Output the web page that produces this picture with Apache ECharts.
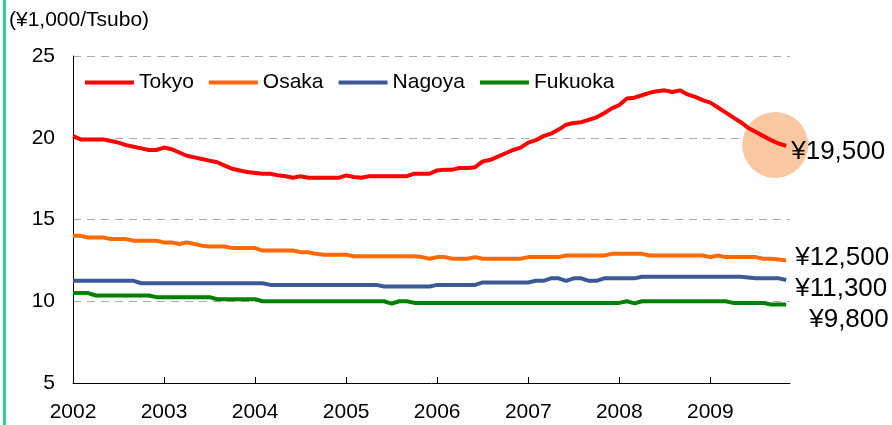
<!DOCTYPE html>
<html>
<head>
<meta charset="utf-8">
<script src="https://cdn.jsdelivr.net/npm/echarts@6/dist/echarts.min.js"></script>
<style>
  html, body { margin: 0; padding: 0; background: #ffffff; }
  #chart { width: 892px; height: 425px; }
</style>
</head>
<body>
<div id="chart"></div>
<script>
// Monthly average office rent, Jan 2002 – Nov 2009 (¥1,000 per tsubo)
const yearLabels = ['2002', '2003', '2004', '2005', '2006', '2007', '2008', '2009'];
const seriesNames = ['Tokyo', 'Osaka', 'Nagoya', 'Fukuoka'];

const tokyo = [
  20.1, 19.9, 19.9, 19.9, 19.9, 19.8, 19.7, 19.55, 19.45, 19.35, 19.25, 19.25,
  19.4, 19.3, 19.1, 18.9, 18.8, 18.7, 18.6, 18.5, 18.3, 18.1, 18.0, 17.9,
  17.85, 17.8, 17.8, 17.7, 17.65, 17.55, 17.65, 17.55, 17.55, 17.55, 17.55, 17.55,
  17.7, 17.6, 17.55, 17.65, 17.65, 17.65, 17.65, 17.65, 17.65, 17.8, 17.8, 17.8,
  18.0, 18.05, 18.05, 18.15, 18.15, 18.2, 18.55, 18.65, 18.85, 19.05, 19.25, 19.4,
  19.7, 19.85, 20.1, 20.25, 20.5, 20.8, 20.9, 20.95, 21.1, 21.25, 21.5, 21.8,
  22.0, 22.4, 22.45, 22.6, 22.75, 22.85, 22.9, 22.8, 22.9, 22.65, 22.5, 22.3,
  22.15, 21.85, 21.55, 21.25, 20.95, 20.6, 20.35, 20.1, 19.85, 19.65, 19.5
];

const osaka = [
  14.0, 14.0, 13.9, 13.9, 13.9, 13.8, 13.8, 13.8, 13.7, 13.7, 13.7, 13.7,
  13.6, 13.6, 13.5, 13.6, 13.5, 13.4, 13.35, 13.35, 13.35, 13.25, 13.25, 13.25,
  13.25, 13.1, 13.1, 13.1, 13.1, 13.1, 13.0, 13.0, 12.9, 12.85, 12.85, 12.85,
  12.85, 12.75, 12.75, 12.75, 12.75, 12.75, 12.75, 12.75, 12.75, 12.75, 12.7, 12.6,
  12.7, 12.7, 12.6, 12.6, 12.6, 12.7, 12.6, 12.6, 12.6, 12.6, 12.6, 12.6,
  12.7, 12.7, 12.7, 12.7, 12.7, 12.8, 12.8, 12.8, 12.8, 12.8, 12.8, 12.9,
  12.9, 12.9, 12.9, 12.9, 12.8, 12.8, 12.8, 12.8, 12.8, 12.8, 12.8, 12.8,
  12.7, 12.8, 12.7, 12.7, 12.7, 12.7, 12.7, 12.6, 12.6, 12.55, 12.5
];

const nagoya = [
  11.25, 11.25, 11.25, 11.25, 11.25, 11.25, 11.25, 11.25, 11.25, 11.1, 11.1, 11.1,
  11.1, 11.1, 11.1, 11.1, 11.1, 11.1, 11.1, 11.1, 11.1, 11.1, 11.1, 11.1,
  11.1, 11.1, 11.0, 11.0, 11.0, 11.0, 11.0, 11.0, 11.0, 11.0, 11.0, 11.0,
  11.0, 11.0, 11.0, 11.0, 11.0, 10.9, 10.9, 10.9, 10.9, 10.9, 10.9, 10.9,
  11.0, 11.0, 11.0, 11.0, 11.0, 11.0, 11.15, 11.15, 11.15, 11.15, 11.15, 11.15,
  11.15, 11.25, 11.25, 11.4, 11.4, 11.25, 11.4, 11.4, 11.25, 11.25, 11.4, 11.4,
  11.4, 11.4, 11.4, 11.5, 11.5, 11.5, 11.5, 11.5, 11.5, 11.5, 11.5, 11.5,
  11.5, 11.5, 11.5, 11.5, 11.5, 11.45, 11.4, 11.4, 11.4, 11.4, 11.3
];

const fukuoka = [
  10.5, 10.5, 10.5, 10.35, 10.35, 10.35, 10.35, 10.35, 10.35, 10.35, 10.35, 10.25,
  10.25, 10.25, 10.25, 10.25, 10.25, 10.25, 10.25, 10.12, 10.12, 10.12, 10.12, 10.12,
  10.12, 10.0, 10.0, 10.0, 10.0, 10.0, 10.0, 10.0, 10.0, 10.0, 10.0, 10.0,
  10.0, 10.0, 10.0, 10.0, 10.0, 10.0, 9.85, 10.0, 10.0, 9.9, 9.9, 9.9,
  9.9, 9.9, 9.9, 9.9, 9.9, 9.9, 9.9, 9.9, 9.9, 9.9, 9.9, 9.9,
  9.9, 9.9, 9.9, 9.9, 9.9, 9.9, 9.9, 9.9, 9.9, 9.9, 9.9, 9.9,
  9.9, 10.0, 9.87, 10.0, 10.0, 10.0, 10.0, 10.0, 10.0, 10.0, 10.0, 10.0,
  10.0, 10.0, 10.0, 9.9, 9.9, 9.9, 9.9, 9.9, 9.8, 9.8, 9.8
];

const colors = ['#ff0000', '#ff6a00', '#3a5a96', '#008000'];
const FONT = '"Liberation Sans", Arial, sans-serif';

const toPoints = arr => arr.map((v, i) => [i, v]);
const yen = v => '¥' + Math.round(v * 1000).toLocaleString('en-US');

// label offsets keep the four end values apart on the right edge
const endOffsets = [[0, 6], [4, -3], [4, 9], [18, 15]];
const allSeries = [tokyo, osaka, nagoya, fukuoka];
const lastIdx = tokyo.length - 1;

const lineSeries = allSeries.map((arr, k) => ({
  name: seriesNames[k],
  type: 'line',
  data: toPoints(arr),
  showSymbol: false,
  symbol: 'none',
  z: 10 - k,
  lineStyle: { color: colors[k], width: 4 },
  itemStyle: { color: colors[k] },
  endLabel: {
    show: true,
    formatter: p => yen(p.value[1]),
    fontFamily: FONT,
    fontSize: 26,
    color: '#000',
    distance: 5,
    offset: endOffsets[k]
  }
}));

// soft highlight disc around the latest Tokyo reading
const highlight = {
  name: 'highlight',
  type: 'scatter',
  data: [[lastIdx, tokyo[lastIdx]]],
  symbol: 'circle',
  symbolSize: 66,
  symbolOffset: [-11, -1],
  z: 1,
  silent: true,
  itemStyle: { color: '#f9c8a2', opacity: 1 }
};

const chart = echarts.init(document.getElementById('chart'), null, { renderer: 'canvas' });
chart.setOption({
  animation: false,
  backgroundColor: '#ffffff',
  textStyle: { fontFamily: FONT },
  grid: { left: 73, right: 102, top: 56, bottom: 42, containLabel: false },
  legend: {
    data: seriesNames,
    left: 80,
    top: 67,
    icon: 'rect',
    itemWidth: 49,
    itemHeight: 4,
    itemGap: 15,
    textStyle: { fontFamily: FONT, fontSize: 21, color: '#000' }
  },
  xAxis: {
    type: 'value',
    min: 0,
    max: 94.5,
    interval: 12,
    axisLine: { show: true, lineStyle: { color: '#000', width: 1 } },
    axisTick: { show: true, inside: true, length: 6, lineStyle: { color: '#000' } },
    splitLine: { show: false },
    axisLabel: {
      fontFamily: FONT,
      fontSize: 21,
      color: '#000',
      margin: 19,
      showMaxLabel: false,
      formatter: v => yearLabels[Math.round(v / 12)] || ''
    }
  },
  yAxis: {
    type: 'value',
    min: 5,
    max: 25,
    interval: 5,
    axisLine: { show: true, lineStyle: { color: '#000', width: 1 } },
    axisTick: { show: false },
    splitLine: { show: true, lineStyle: { color: '#aaaaaa', type: [8, 6], width: 1 } },
    axisLabel: { fontFamily: FONT, fontSize: 21, color: '#000', margin: 18 }
  },
  graphic: [
    {
      type: 'rect',
      left: 3,
      top: 0,
      shape: { width: 3, height: 425 },
      style: { fill: '#2ad48c' },
      silent: true
    },
    {
      type: 'text',
      left: 9,
      top: 10,
      style: {
        text: '(¥1,000/Tsubo)',
        font: '21px ' + FONT,
        fill: '#000'
      }
    }
  ],
  series: [highlight].concat(lineSeries)
});
</script>
</body>
</html>
